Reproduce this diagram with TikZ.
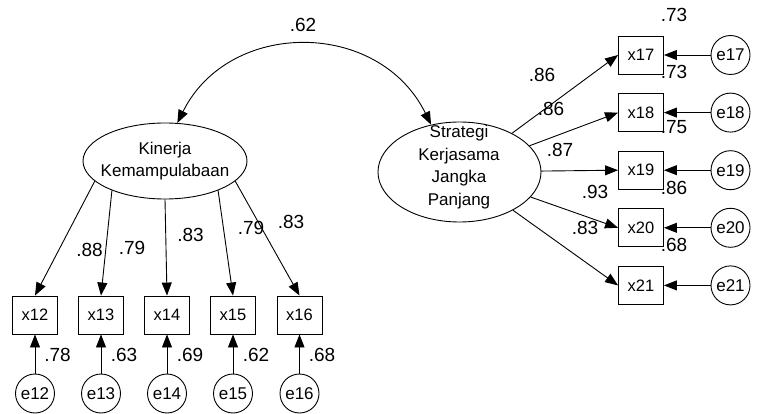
\documentclass[tikz,border=0pt]{standalone}
\usepackage{fontspec}
\usetikzlibrary{shapes.geometric,arrows.meta}
\newfontfamily\arialfont{Liberation Sans}
\newcommand{\nodetxt}{\arialfont\fontsize{17}{22.5}\selectfont}
\newcommand{\boxtxt}{\arialfont\fontsize{16.5}{20}\selectfont}
\newcommand{\coeftxt}{\arialfont\fontsize{19}{21}\selectfont}
\tikzset{
  latent/.style={ellipse, draw, line width=0.9pt, inner sep=0pt},
  lattext/.style={align=center, inner sep=0pt, font=\nodetxt},
  obs/.style={rectangle, draw, line width=0.9pt, minimum width=45pt, minimum height=38pt, inner sep=0pt, font=\boxtxt},
  errc/.style={circle, draw, line width=0.9pt, minimum size=39pt, inner sep=0pt, font=\nodetxt},
  ld/.style={-{Triangle[length=13pt,width=10pt]}, line width=0.9pt},
  cov/.style={{Triangle[length=13pt,width=10pt]}-{Triangle[length=13pt,width=10pt]}, line width=0.9pt},
  coef/.style={inner sep=0pt, font=\coeftxt}
}
\begin{document}
\begin{tikzpicture}[x=1pt,y=-1pt]
\useasboundingbox (0,0) rectangle (760,414);

% latent variables
\node[latent, minimum width=164pt, minimum height=76pt] (L) at (165,161) {};
\node[lattext] (Ltxt) at (165,161) {Kinerja\\Kemampulabaan};
\node[latent, minimum width=163pt, minimum height=100pt] (R) at (459.5,172) {};
\node[lattext] (Rtxt) at (459,167) {Strategi\\Kerjasama\\Jangka\\Panjang};

% indicators of the left factor with their error terms
\foreach \i/\x in {12/35,13/101,14/167,15/233,16/299.5} {
  \node[obs] (x\i) at (\x,315) {x\i};
  \node[errc] (e\i) at (\x,393.5) {e\i};
  \draw[ld] (e\i) -- (x\i);
}
\foreach \i/\a in {12/196,13/209,14/270,15/331,16/344}
  \draw[ld] (L.\a) -- (x\i.north);

% indicators of the right factor with their error terms
\foreach \i/\y in {17/55,18/112.6,19/170.2,20/227.8,21/285.4} {
  \node[obs] (x\i) at (641,\y) {x\i};
  \node[errc] (e\i) at (730.5,\y) {e\i};
  \draw[ld] (e\i) -- (x\i);
  \draw[ld] (R) -- (x\i.west);
}

% correlation between the factors
\draw[cov] (L.72) .. controls (229,19) and (379,19) .. (R.121);
\node[coef] (r62) at (303,25) {.62};

% loadings, left factor
\node[coef] (a12) at (89.5,250) {.88};
\node[coef] (a13) at (132,248) {.79};
\node[coef] (a14) at (190.5,235) {.83};
\node[coef] (a15) at (251,228) {.79};
\node[coef] (a16) at (291,222) {.83};
% squared multiple correlations, left indicators
\node[coef] (b12) at (57.5,355) {.78};
\node[coef] (b13) at (124,355) {.63};
\node[coef] (b14) at (190,355) {.69};
\node[coef] (b15) at (256,355) {.62};
\node[coef] (b16) at (322,355) {.68};

% loadings, right factor
\node[coef] (a17) at (542,75) {.86};
\node[coef] (a18) at (551,109) {.86};
\node[coef] (a19) at (560,150) {.87};
\node[coef] (a20) at (595,191.5) {.93};
\node[coef] (a21) at (585,228) {.83};
% squared multiple correlations, right indicators
\node[coef] (b17) at (674,15) {.73};
\node[coef] (b18) at (674,72) {.73};
\node[coef] (b19) at (674,127) {.75};
\node[coef] (b20) at (674,188) {.86};
\node[coef] (b21) at (674,245) {.68};
\end{tikzpicture}
\end{document}
